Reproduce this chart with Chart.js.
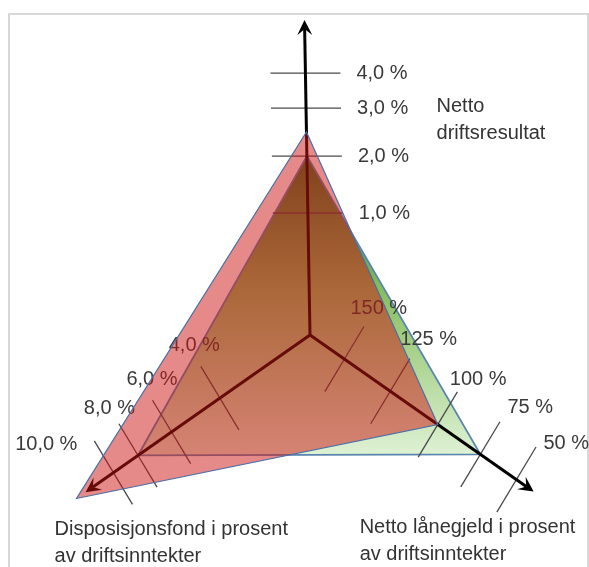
<!DOCTYPE html>
<html>
<head>
<meta charset="utf-8">
<script src="https://cdn.jsdelivr.net/npm/chart.js@4.4.1/dist/chart.umd.min.js"></script>
<style>
  html, body { margin: 0; padding: 0; background: #fff; }
  #wrap { position: relative; width: 589px; height: 567px; overflow: hidden; }
  #frame { position: absolute; left: 8px; top: 13px; width: 577px; height: 580px; border: 2px solid #d8d8d8; border-bottom: none; }
  #wrap canvas { position: absolute; left: 0; top: 0; }
</style>
</head>
<body>
<div id="wrap">
  <div id="frame"></div>
  <canvas id="radarChart"></canvas>
</div>
<script>
// Verdier lest av figuren (akse 0 = topp, 1 = hoyre, 2 = venstre)
const categories = ['Netto driftsresultat', 'Netto lånegjeld i prosent av driftsinntekter', 'Disposisjonsfond i prosent av driftsinntekter'];
const redValues = [2.5, 100, 13];
const greenValues = [2.0, 75, 8.0];

const driftsTicks = [1, 2, 3, 4];
const driftsTickLabels = ['1,0 %', '2,0 %', '3,0 %', '4,0 %'];
const gjeldTicks = [150, 125, 100, 75, 50];
const gjeldTickLabels = ['150 %', '125 %', '100 %', '75 %', '50 %'];
const fondTicks = [4, 6, 8, 10];
const fondTickLabels = ['4,0 %', '6,0 %', '8,0 %', '10,0 %'];

const tickValues = [driftsTicks, gjeldTicks, fondTicks];
const tickLabels = [driftsTickLabels, gjeldTickLabels, fondTickLabels];

// Utseende: vinkler, tick-avstander fra sentrum (i skala-enheter), pilspisser, tekstplassering
const axisLayout = [
  { angle: -1, radii: [122, 179, 227, 262], tip: 315, tickHalf: 35, tickSkew: 1, align: 'left',
    labelOffsets: [[51, 0], [51, 0], [51, 0], [51, 0]],
    title: ['Netto', 'driftsresultat'], titleOffset: [132, 92] },
  { angle: 125, radii: [42, 98, 156, 208, 252], tip: 273, tickHalf: 38, tickSkew: -4, align: 'left',
    labelOffsets: [[6, -51], [10, -52], [12, -45], [27, -47], [27, -36]],
    title: ['Netto lånegjeld i prosent', 'av driftsinntekter'], titleOffset: [-174, 41] },
  { angle: 235, radii: [110, 169, 210, 240], tip: 274, tickHalf: 37, tickSkew: 4, align: 'right',
    labelOffsets: [[0, -53], [6, -52], [-3, -47], [-36, -28]],
    title: ['Disposisjonsfond i prosent', 'av driftsinntekter'], titleOffset: [-31, 43] }
];

const FONT = "20px 'Liberation Sans', Arial, sans-serif";

// stykkevis lineær akse: verdi -> avstand fra sentrum
function toRadius(axis, value) {
  const t = tickValues[axis];
  const r = axisLayout[axis].radii;
  let seg = -1;
  for (let i = 0; i < t.length - 1; i++) {
    if ((value - t[i]) * (value - t[i + 1]) <= 0) { seg = i; break; }
  }
  if (seg < 0) {
    const dir = Math.sign(t[1] - t[0]);
    seg = (value - t[0]) * dir < 0 ? 0 : t.length - 2;
  }
  const f = (value - t[seg]) / (t[seg + 1] - t[seg]);
  return r[seg] + f * (r[seg + 1] - r[seg]);
}

// radial skala med egne vinkler per akse
class SkewRadialScale extends Chart.RadialLinearScale {
  getIndexAngle(index) {
    const a = axisLayout[index].angle * Math.PI / 180;
    const tau = Math.PI * 2;
    return ((a % tau) + tau) % tau;
  }
}
SkewRadialScale.id = 'skewRadial';
SkewRadialScale.defaults = Chart.RadialLinearScale.defaults;
Chart.register(SkewRadialScale);

function drawArrow(ctx, x, y, ux, uy) {
  const L = 15, W = 7.5;
  const nx = -uy, ny = ux;
  ctx.beginPath();
  ctx.moveTo(x, y);
  ctx.lineTo(x - ux * L + nx * W, y - uy * L + ny * W);
  ctx.lineTo(x - ux * L * 0.6, y - uy * L * 0.6);
  ctx.lineTo(x - ux * L - nx * W, y - uy * L - ny * W);
  ctx.closePath();
  ctx.fill();
}

const axisPlugin = {
  id: 'axisPlugin',
  afterDatasetDraw(chart, args) {
    if (args.index !== 1) return; // tegnes mellom grønn og rød flate
    const scale = chart.scales.r;
    const ctx = chart.ctx;
    const cx = scale.xCenter, cy = scale.yCenter;
    ctx.save();
    axisLayout.forEach((ax, i) => {
      const tip = scale.getPointPosition(i, scale.getDistanceFromCenterForValue(ax.tip));
      const ux = Math.cos(tip.angle), uy = Math.sin(tip.angle);

      // tick-streker
      const ta = tip.angle + Math.PI / 2 + ax.tickSkew * Math.PI / 180;
      const tx = Math.cos(ta), ty = Math.sin(ta);
      ctx.strokeStyle = '#4a4a4a';
      ctx.lineWidth = 1.3;
      ax.radii.forEach((rad, k) => {
        const p = scale.getPointPosition(i, scale.getDistanceFromCenterForValue(rad));
        ctx.beginPath();
        ctx.moveTo(p.x - tx * ax.tickHalf, p.y - ty * ax.tickHalf);
        ctx.lineTo(p.x + tx * ax.tickHalf, p.y + ty * ax.tickHalf);
        ctx.stroke();
        ctx.fillStyle = '#3a3a3a';
        ctx.font = FONT;
        ctx.textAlign = ax.align;
        ctx.textBaseline = 'middle';
        const off = ax.labelOffsets[k];
        ctx.fillText(tickLabels[i][k], p.x + off[0], p.y + off[1]);
      });

      // akselinje med pil
      ctx.strokeStyle = '#000';
      ctx.fillStyle = '#000';
      ctx.lineWidth = 3;
      ctx.beginPath();
      ctx.moveTo(cx, cy);
      ctx.lineTo(tip.x - ux * 9, tip.y - uy * 9);
      ctx.stroke();
      drawArrow(ctx, tip.x, tip.y, ux, uy);

      // aksetittel
      ctx.fillStyle = '#333';
      ctx.font = FONT;
      ctx.textAlign = 'left';
      ctx.textBaseline = 'alphabetic';
      ax.title.forEach((line, k) => {
        ctx.fillText(line, tip.x + ax.titleOffset[0], tip.y + ax.titleOffset[1] + k * 27);
      });
    });
    ctx.restore();
  }
};

function greenFill(context) {
  const chart = context.chart;
  const scale = chart.scales.r;
  if (!chart.chartArea || !scale) return 'rgb(140,195,100)';
  const top = scale.getPointPositionForValue(0, toRadius(0, greenValues[0])).y;
  const bottom = scale.getPointPositionForValue(1, toRadius(1, greenValues[1])).y;
  const g = chart.ctx.createLinearGradient(0, top, 0, bottom);
  g.addColorStop(0, 'rgb(55,110,35)');
  g.addColorStop(0.45, 'rgb(135,190,95)');
  g.addColorStop(1, 'rgb(222,241,212)');
  return g;
}

const ctx = document.getElementById('radarChart').getContext('2d');
const radarChart = new Chart(ctx, {
  type: 'radar',
  data: {
    labels: categories,
    datasets: [
      {
        label: 'Rød',
        data: redValues.map((v, i) => toRadius(i, v)),
        backgroundColor: 'rgba(205, 20, 20, 0.5)',
        borderColor: '#4b6fa6',
        borderWidth: 1.2,
        pointRadius: 0,
        fill: true,
        tension: 0,
        clip: false
      },
      {
        label: 'Grønn',
        data: greenValues.map((v, i) => toRadius(i, v)),
        backgroundColor: greenFill,
        borderColor: '#5a86ae',
        borderWidth: 1.8,
        pointRadius: 0,
        fill: true,
        tension: 0,
        clip: false
      }
    ]
  },
  options: {
    responsive: true,
    maintainAspectRatio: false,
    animation: false,
    events: [],
    layout: { padding: { left: 31, right: 0, top: 103, bottom: 0 } },
    scales: {
      r: {
        type: 'skewRadial',
        min: 0,
        max: 232,
        grid: { display: false },
        angleLines: { display: false },
        ticks: { display: false },
        pointLabels: { display: false }
      }
    },
    plugins: {
      legend: { display: false },
      tooltip: { enabled: false }
    }
  },
  plugins: [axisPlugin]
});
</script>
</body>
</html>
